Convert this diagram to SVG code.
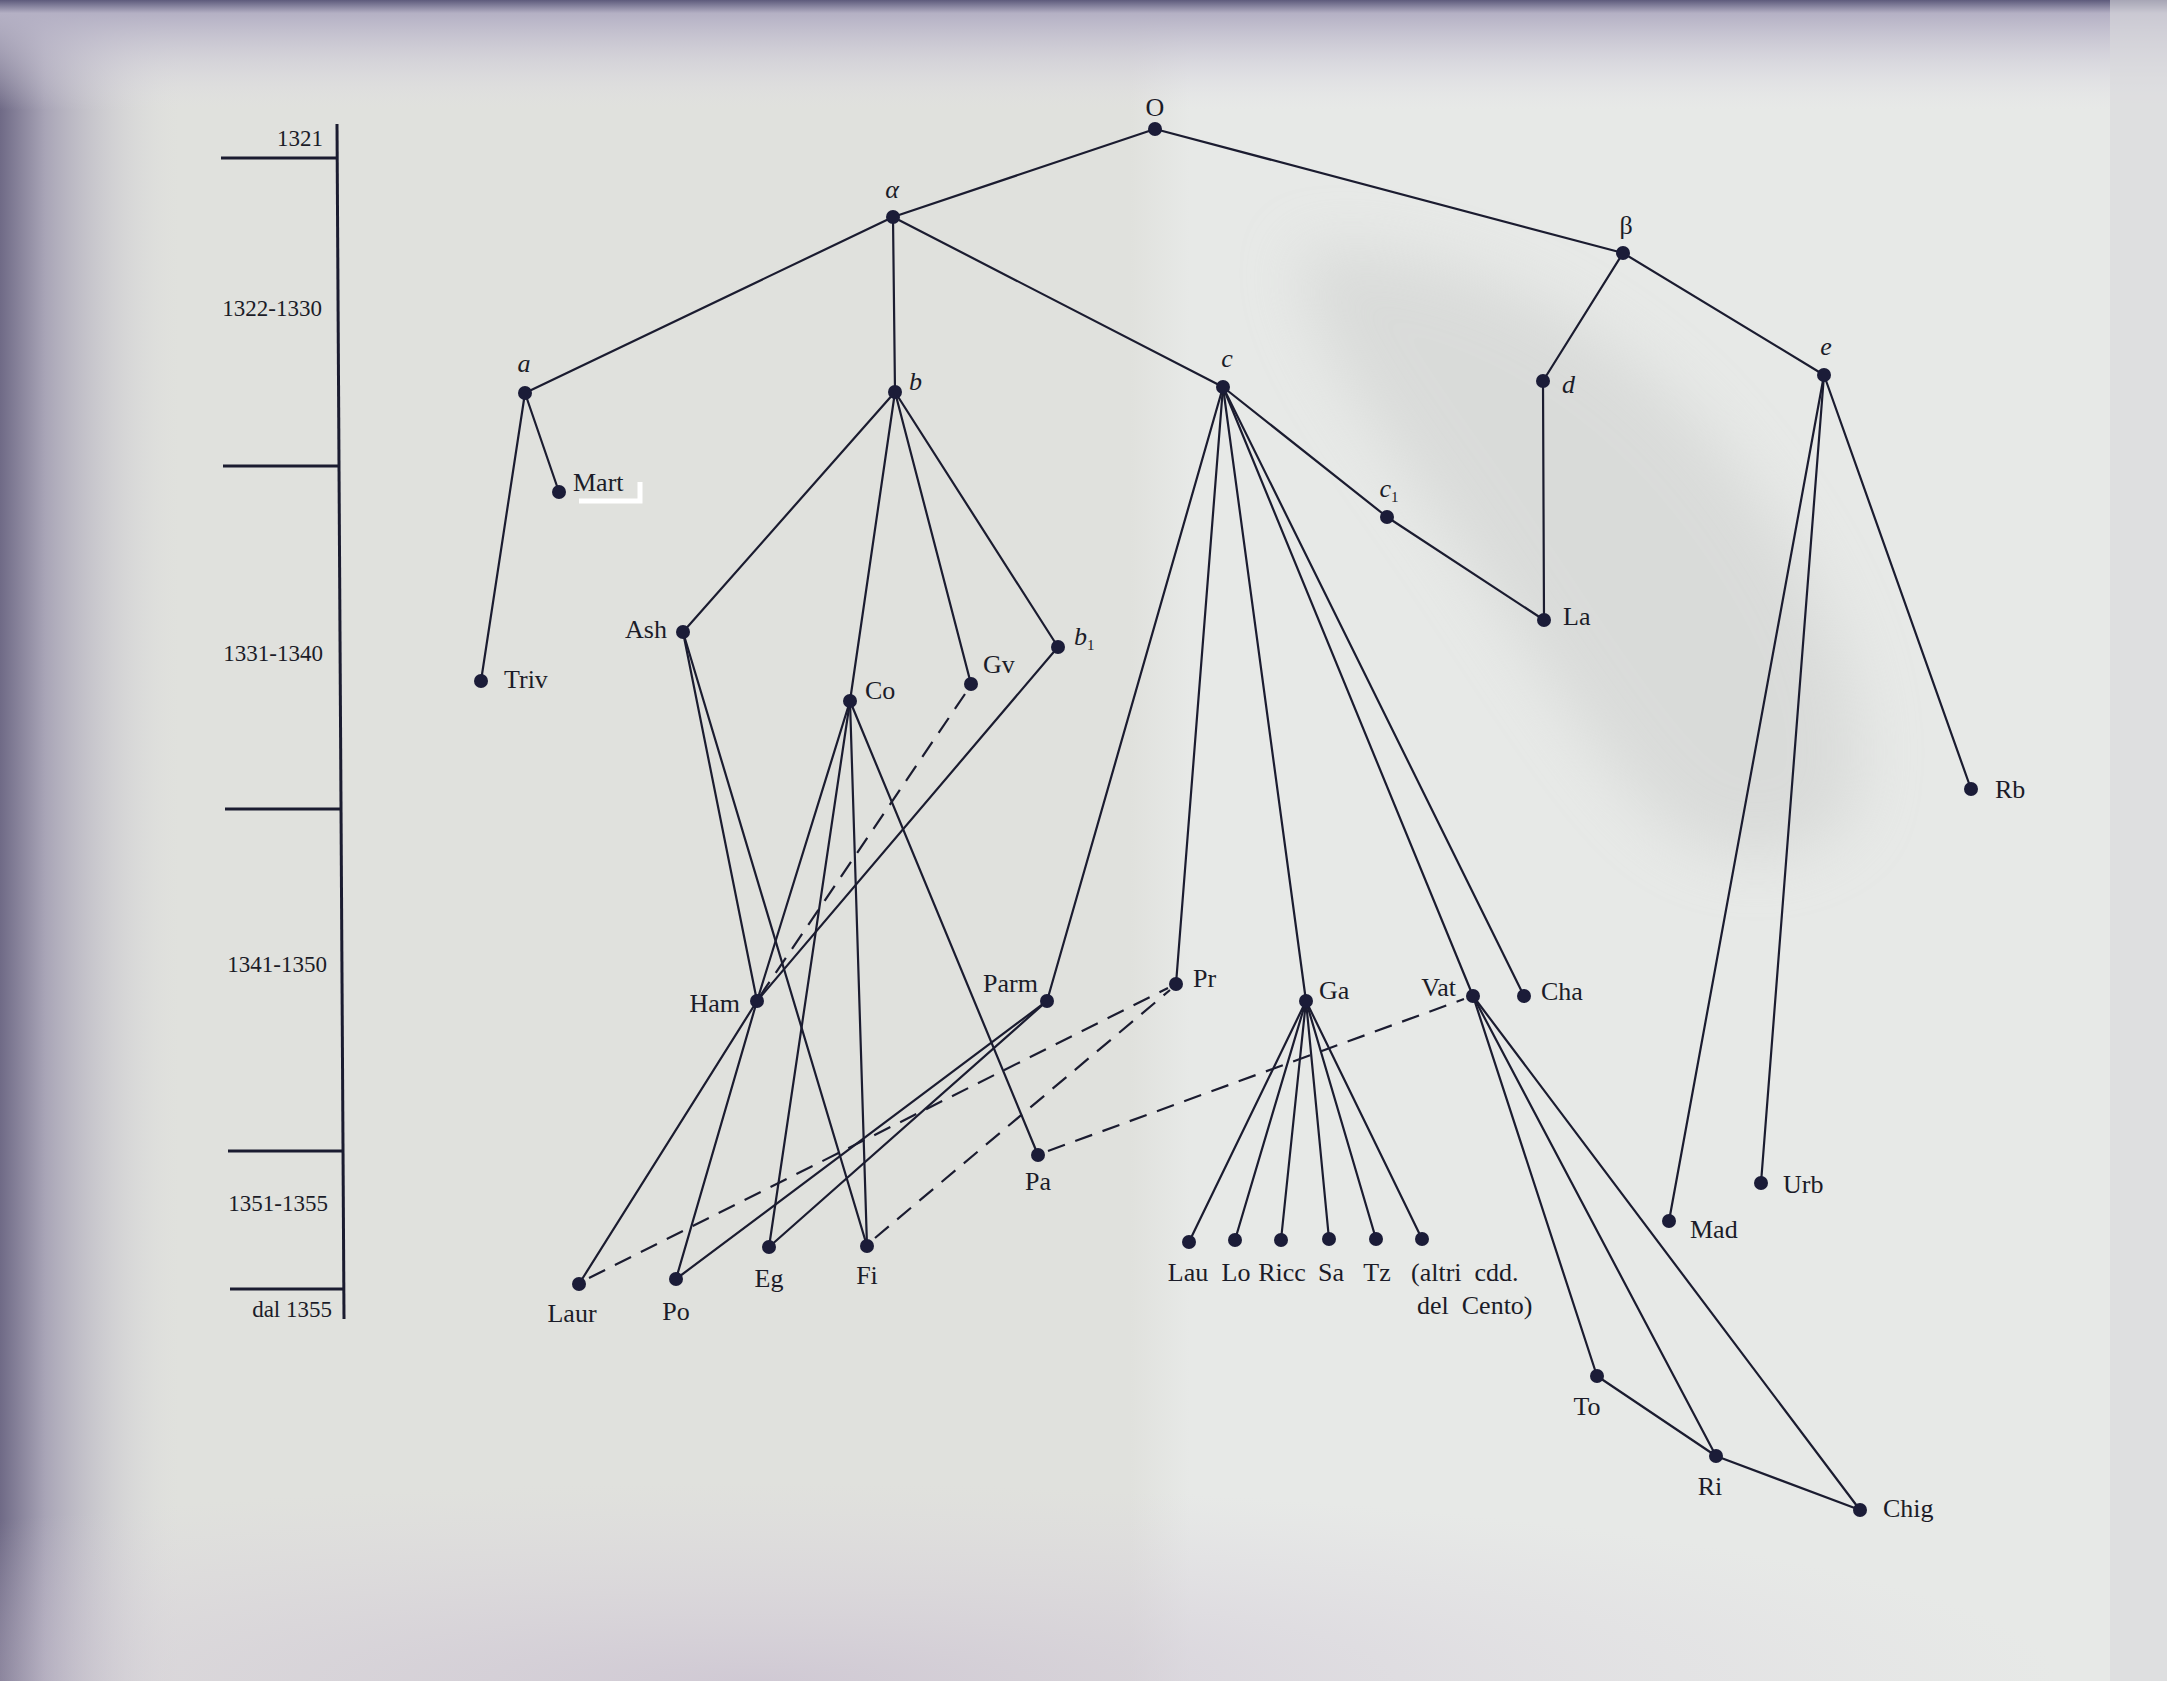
<svg xmlns="http://www.w3.org/2000/svg" width="2167" height="1681" viewBox="0 0 2167 1681">
<defs>
<linearGradient id="gl" x1="0" y1="0" x2="1" y2="0">
<stop offset="0" stop-color="#6f6a86"/>
<stop offset="0.25" stop-color="#a8a4b6"/>
<stop offset="1" stop-color="#dcdcdc" stop-opacity="0"/>
</linearGradient>
<linearGradient id="gt" x1="0" y1="0" x2="0" y2="1">
<stop offset="0" stop-color="#5d5a7c"/>
<stop offset="0.12" stop-color="#b4b0c4"/>
<stop offset="1" stop-color="#e0dde6" stop-opacity="0"/>
</linearGradient>
<radialGradient id="gb" cx="0.35" cy="1" r="0.6">
<stop offset="0" stop-color="#c9bfd0"/>
<stop offset="1" stop-color="#d8d0dc" stop-opacity="0"/>
</radialGradient>
<linearGradient id="gf" x1="0" y1="0" x2="1" y2="0">
<stop offset="0" stop-color="#e0e1dd"/>
<stop offset="1" stop-color="#e7e9e7"/>
</linearGradient>
<filter id="blur" x="-20%" y="-20%" width="140%" height="140%"><feGaussianBlur stdDeviation="30"/></filter>
<style>
.e{stroke:#1b1c30;stroke-width:2.2;fill:none;stroke-linecap:round}
.d{stroke:#1b1c30;stroke-width:2.2;fill:none;stroke-dasharray:18 11}
.ax{stroke:#1b1c30;stroke-width:3;fill:none}
.n{fill:#1b1c38}
.t{font-family:"Liberation Serif","DejaVu Serif",serif;font-size:26px;fill:#1b1c28}
.i{font-style:italic}
.y{font-family:"Liberation Serif","DejaVu Serif",serif;font-size:23px;fill:#1b1c28;text-anchor:end}
.m{text-anchor:middle}
.r{text-anchor:end}
</style>
</defs>
<rect width="2167" height="1681" fill="#e0e1dd"/>
<rect x="1130" y="0" width="60" height="1681" fill="url(#gf)"/>
<rect x="1190" y="0" width="977" height="1681" fill="#e7e9e7"/>
<path d="M1300 250 C1450 240 1620 320 1730 460 C1840 600 1880 720 1850 820 C1780 880 1700 860 1650 810 C1580 740 1500 600 1420 490 C1350 390 1300 320 1300 250 Z" fill="#cfd0cf" opacity="0.55" filter="url(#blur)"/>
<rect x="0" y="0" width="180" height="1681" fill="url(#gl)"/>
<rect x="0" y="0" width="2167" height="110" fill="url(#gt)"/>
<rect x="0" y="1350" width="2167" height="331" fill="url(#gb)" opacity="0.7"/>
<rect x="2110" y="0" width="57" height="1681" fill="#d9d8dc" opacity="0.6"/>

<g id="timeline">
<path class="ax" d="M337 124 L344 1319"/>
<path class="ax" d="M221 158 H337"/>
<path class="ax" d="M223 466 H340"/>
<path class="ax" d="M225 809 H342"/>
<path class="ax" d="M228 1151 H343"/>
<path class="ax" d="M230 1289 H344"/>
<text class="y" x="323" y="146">1321</text>
<text class="y" x="322" y="316">1322-1330</text>
<text class="y" x="323" y="661">1331-1340</text>
<text class="y" x="327" y="972">1341-1350</text>
<text class="y" x="328" y="1211">1351-1355</text>
<text class="y" x="332" y="1317">dal 1355</text>
</g>

<g id="connectors">
<path class="e" d="M1155 129 L893 217"/>
<path class="e" d="M1155 129 L1623 253"/>
<path class="e" d="M893 217 L525 393"/>
<path class="e" d="M893 217 L895 392"/>
<path class="e" d="M893 217 L1223 387"/>
<path class="e" d="M1623 253 L1543 381"/>
<path class="e" d="M1623 253 L1824 375"/>
<path class="e" d="M525 393 L481 681"/>
<path class="e" d="M525 393 L559 492"/>
<path class="e" d="M895 392 L683 632"/>
<path class="e" d="M895 392 L850 701"/>
<path class="e" d="M895 392 L971 684"/>
<path class="e" d="M895 392 L1058 647"/>
<path class="e" d="M1223 387 L1047 1001"/>
<path class="e" d="M1223 387 L1176 984"/>
<path class="e" d="M1223 387 L1306 1001"/>
<path class="e" d="M1223 387 L1473 996"/>
<path class="e" d="M1223 387 L1524 996"/>
<path class="e" d="M1223 387 L1387 517"/>
<path class="e" d="M1387 517 L1544 620"/>
<path class="e" d="M1543 381 L1544 620"/>
<path class="e" d="M1824 375 L1669 1221"/>
<path class="e" d="M1824 375 L1761 1183"/>
<path class="e" d="M1824 375 L1971 789"/>
<path class="e" d="M683 632 L757 1001"/>
<path class="e" d="M683 632 L867 1246"/>
<path class="e" d="M1058 647 L757 1001"/>
<path class="e" d="M850 701 L757 1001"/>
<path class="e" d="M850 701 L769 1247"/>
<path class="e" d="M850 701 L867 1246"/>
<path class="e" d="M850 701 L1038 1155"/>
<path class="e" d="M757 1001 L579 1284"/>
<path class="e" d="M757 1001 L676 1279"/>
<path class="e" d="M1047 1001 L676 1279"/>
<path class="e" d="M1047 1001 L769 1247"/>
<path class="e" d="M1306 1001 L1189 1242"/>
<path class="e" d="M1306 1001 L1235 1240"/>
<path class="e" d="M1306 1001 L1281 1240"/>
<path class="e" d="M1306 1001 L1329 1239"/>
<path class="e" d="M1306 1001 L1376 1239"/>
<path class="e" d="M1306 1001 L1422 1239"/>
<path class="e" d="M1473 996 L1597 1376"/>
<path class="e" d="M1473 996 L1716 1456"/>
<path class="e" d="M1473 996 L1860 1510"/>
<path class="e" d="M1597 1376 L1716 1456"/>
<path class="e" d="M1716 1456 L1860 1510"/>
<path class="d" d="M965 694 L760 996"/>
<path class="d" d="M589 1278 L1168 988"/>
<path class="d" d="M875 1238 L1170 990"/>
<path class="d" d="M1048 1151 L1464 999"/>
</g>

<g id="n-O"><circle class="n" cx="1155" cy="129" r="7"/><text class="t m" x="1155" y="116">O</text></g>
<g id="n-alpha"><circle class="n" cx="893" cy="217" r="7"/><text class="t m i" x="892" y="198">α</text></g>
<g id="n-beta"><circle class="n" cx="1623" cy="253" r="7"/><text class="t m" x="1626" y="234">β</text></g>
<g id="n-a"><circle class="n" cx="525" cy="393" r="7"/><text class="t m i" x="524" y="372">a</text></g>
<g id="n-b"><circle class="n" cx="895" cy="392" r="7"/><text class="t i" x="909" y="390">b</text></g>
<g id="n-c"><circle class="n" cx="1223" cy="387" r="7"/><text class="t m i" x="1227" y="367">c</text></g>
<g id="n-d"><circle class="n" cx="1543" cy="381" r="7"/><text class="t i" x="1562" y="393">d</text></g>
<g id="n-e"><circle class="n" cx="1824" cy="375" r="7"/><text class="t m i" x="1826" y="355">e</text></g>
<g id="n-Mart"><circle class="n" cx="559" cy="492" r="7"/><text class="t" x="573" y="491">Mart</text><path d="M579 501 H640 V482" stroke="#ffffff" stroke-width="5" fill="none"/></g>
<g id="n-Triv"><circle class="n" cx="481" cy="681" r="7"/><text class="t" x="504" y="688">Triv</text></g>
<g id="n-Ash"><circle class="n" cx="683" cy="632" r="7"/><text class="t r" x="667" y="638">Ash</text></g>
<g id="n-Co"><circle class="n" cx="850" cy="701" r="7"/><text class="t" x="865" y="699">Co</text></g>
<g id="n-Gv"><circle class="n" cx="971" cy="684" r="7"/><text class="t" x="983" y="673">Gv</text></g>
<g id="n-b1"><circle class="n" cx="1058" cy="647" r="7"/><text class="t i" x="1074" y="645">b<tspan font-size="15" dy="5" font-style="normal">1</tspan></text></g>
<g id="n-c1"><circle class="n" cx="1387" cy="517" r="7"/><text class="t m i" x="1389" y="497">c<tspan font-size="15" dy="5" font-style="normal">1</tspan></text></g>
<g id="n-La"><circle class="n" cx="1544" cy="620" r="7"/><text class="t" x="1563" y="625">La</text></g>
<g id="n-Rb"><circle class="n" cx="1971" cy="789" r="7"/><text class="t" x="1995" y="798">Rb</text></g>
<g id="n-Ham"><circle class="n" cx="757" cy="1001" r="7"/><text class="t r" x="740" y="1012">Ham</text></g>
<g id="n-Parm"><circle class="n" cx="1047" cy="1001" r="7"/><text class="t r" x="1038" y="992">Parm</text></g>
<g id="n-Pr"><circle class="n" cx="1176" cy="984" r="7"/><text class="t" x="1193" y="987">Pr</text></g>
<g id="n-Ga"><circle class="n" cx="1306" cy="1001" r="7"/><text class="t" x="1319" y="999">Ga</text></g>
<g id="n-Vat"><circle class="n" cx="1473" cy="996" r="7"/><text class="t r" x="1456" y="996">Vat</text></g>
<g id="n-Cha"><circle class="n" cx="1524" cy="996" r="7"/><text class="t" x="1541" y="1000">Cha</text></g>
<g id="n-Pa"><circle class="n" cx="1038" cy="1155" r="7"/><text class="t m" x="1038" y="1190">Pa</text></g>
<g id="n-Laur"><circle class="n" cx="579" cy="1284" r="7"/><text class="t m" x="572" y="1322">Laur</text></g>
<g id="n-Po"><circle class="n" cx="676" cy="1279" r="7"/><text class="t m" x="676" y="1320">Po</text></g>
<g id="n-Eg"><circle class="n" cx="769" cy="1247" r="7"/><text class="t m" x="769" y="1287">Eg</text></g>
<g id="n-Fi"><circle class="n" cx="867" cy="1246" r="7"/><text class="t m" x="867" y="1284">Fi</text></g>
<g id="n-Lau"><circle class="n" cx="1189" cy="1242" r="7"/><text class="t m" x="1188" y="1281">Lau</text></g>
<g id="n-Lo"><circle class="n" cx="1235" cy="1240" r="7"/><text class="t m" x="1236" y="1281">Lo</text></g>
<g id="n-Ricc"><circle class="n" cx="1281" cy="1240" r="7"/><text class="t m" x="1282" y="1281">Ricc</text></g>
<g id="n-Sa"><circle class="n" cx="1329" cy="1239" r="7"/><text class="t m" x="1331" y="1281">Sa</text></g>
<g id="n-Tz"><circle class="n" cx="1376" cy="1239" r="7"/><text class="t m" x="1377" y="1281">Tz</text></g>
<g id="n-altri"><circle class="n" cx="1422" cy="1239" r="7"/><text class="t" x="1411" y="1281" xml:space="preserve">(altri  cdd.</text><text class="t" x="1417" y="1314" xml:space="preserve">del  Cento)</text></g>
<g id="n-Mad"><circle class="n" cx="1669" cy="1221" r="7"/><text class="t" x="1690" y="1238">Mad</text></g>
<g id="n-Urb"><circle class="n" cx="1761" cy="1183" r="7"/><text class="t" x="1783" y="1193">Urb</text></g>
<g id="n-To"><circle class="n" cx="1597" cy="1376" r="7"/><text class="t m" x="1587" y="1415">To</text></g>
<g id="n-Ri"><circle class="n" cx="1716" cy="1456" r="7"/><text class="t m" x="1710" y="1495">Ri</text></g>
<g id="n-Chig"><circle class="n" cx="1860" cy="1510" r="7"/><text class="t" x="1883" y="1517">Chig</text></g>
</svg>
